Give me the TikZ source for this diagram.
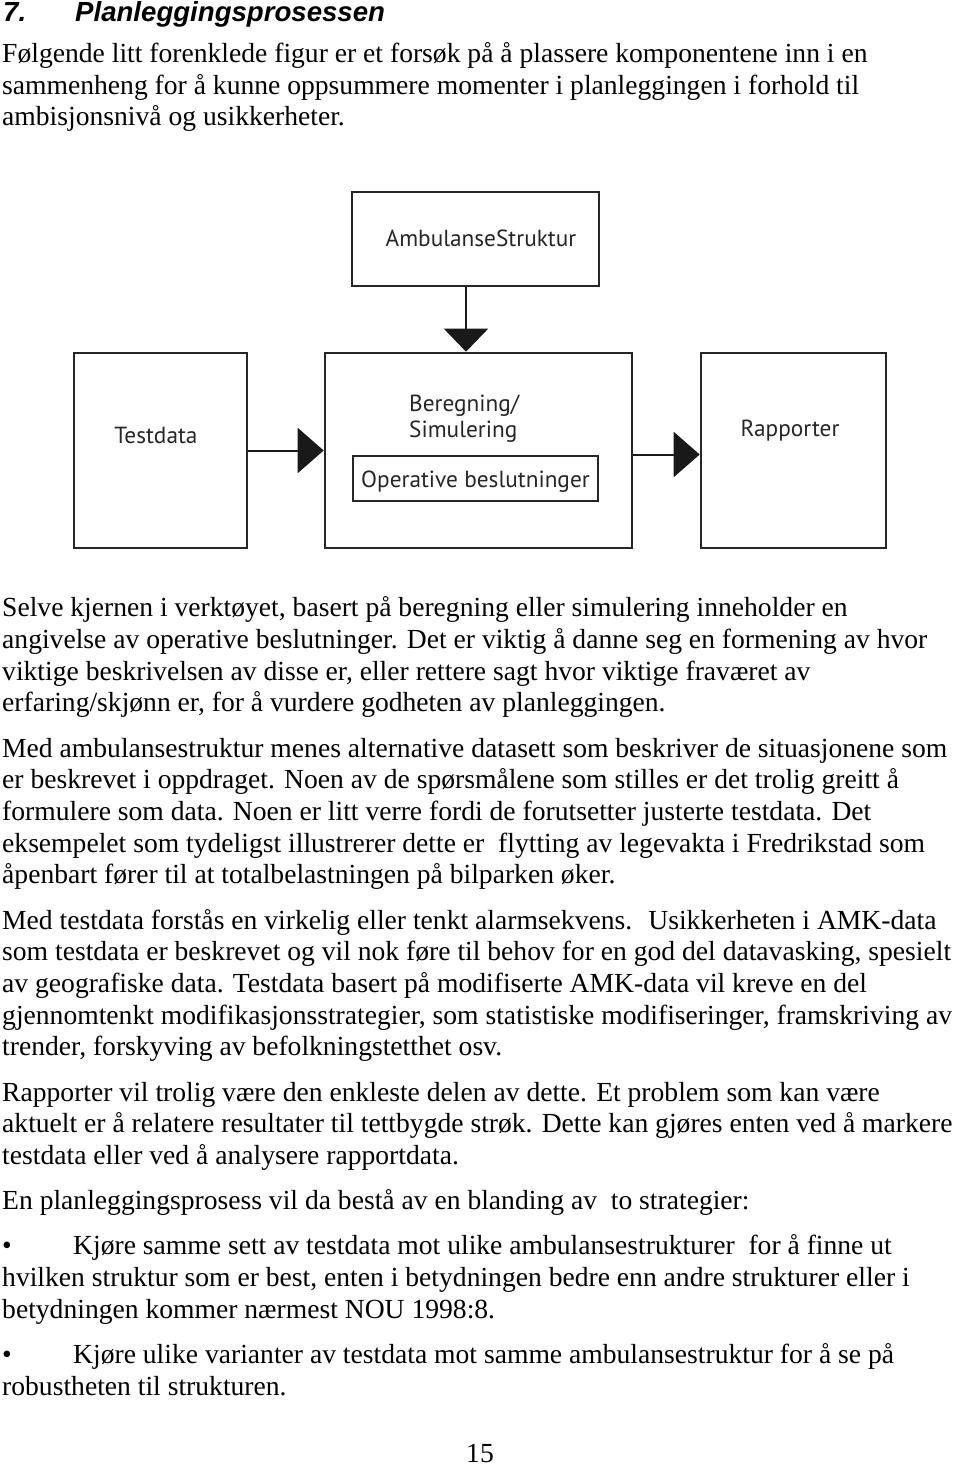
\documentclass[tikz,border=0pt]{standalone}
\usepackage{fontspec}
\setmainfont{Liberation Serif}
\newfontfamily\titlefont{Liberation Sans}
\newfontfamily\diafont{PT Sans}
\usetikzlibrary{arrows.meta,calc}
\begin{document}
\begin{tikzpicture}[x=1pt,y=-1pt,
  txt/.style={anchor=base west,inner sep=0pt,font=\fontsize{27.6}{31.7}\selectfont},
  ttl/.style={anchor=base west,inner sep=0pt,font=\titlefont\bfseries\itshape\fontsize{27.6}{31.7}\selectfont},
  boxnode/.style={draw=black!85,line width=2.6pt,inner sep=0pt,minimum height=195pt},
  dlabel/.style={inner sep=0pt,font=\diafont\fontsize{23.3}{27}\selectfont,text=black!85},
  conn/.style={draw=black!90,line width=2pt},
  tipv/.style={-{Triangle[length=23pt,width=44pt]}},
  tiph/.style={-{Triangle[length=26pt,width=45pt]}}]
\useasboundingbox[fill=white] (0,0) rectangle (960,1467);

% title
\node[ttl] (t7) at (3,21) {7.};
\node[ttl] (tt) at (75,21) {Planleggingsprosessen};

% intro paragraph
\node[txt] (p1a) at (2,62.5) {Følgende litt forenklede figur er et forsøk på å plassere komponentene inn i en};
\node[txt] (p1b) at (2,94.2) {sammenheng for å kunne oppsummere momenter i planleggingen i forhold til};
\node[txt] (p1c) at (2,125.9) {ambisjonsnivå og usikkerheter.};

% diagram
\node[boxnode,minimum width=247pt,minimum height=94pt] (amb) at (475.5,239) {};
\node[dlabel,anchor=base] (ambt) at (481,246) {AmbulanseStruktur};
\node[boxnode,minimum width=173pt] (test) at (160.5,450.5) {};
\node[dlabel,anchor=base] (testt) at (156,443) {Testdata};
\node[boxnode,minimum width=307pt] (calc) at (478.5,450.5) {};
\node[dlabel,anchor=base west] (ber) at (409,411) {Beregning/};
\node[dlabel,anchor=base west] (sim) at (409,437) {Simulering};
\node[draw=black!85,line width=2.4pt,inner sep=0pt,minimum width=245pt,minimum height=45pt] (op) at (475.5,478.5) {};
\node[dlabel,anchor=base] (opt) at (475.5,487) {Operative beslutninger};
\node[boxnode,minimum width=185pt] (rap) at (793.5,450.5) {};
\node[dlabel,anchor=base] (rapt) at (790,436) {Rapporter};

\coordinate (dx) at (466,0);
\draw[conn,tipv] (amb.south -| dx) -- (calc.north -| dx);
\draw[conn,tiph] (test.east) -- (calc.west);
\draw[conn,tiph] ($(calc.east)+(0,4)$) -- ($(rap.west)+(0,4)$);

% paragraph 2
\node[txt] (p2a) at (2,616.7) {Selve kjernen i verktøyet, basert på beregning eller simulering inneholder en};
\node[txt] (p2b) at (2,648.4) {angivelse av operative beslutninger. Det er viktig å danne seg en formening av hvor};
\node[txt] (p2c) at (2,680.1) {viktige beskrivelsen av disse er, eller rettere sagt hvor viktige fraværet av};
\node[txt] (p2d) at (2,711.8) {erfaring/skjønn er, for å vurdere godheten av planleggingen.};

% paragraph 3
\node[txt] (p3a) at (2,757) {Med ambulansestruktur menes alternative datasett som beskriver de situasjonene som};
\node[txt] (p3b) at (2,788.7) {er beskrevet i oppdraget. Noen av de spørsmålene som stilles er det trolig greitt å};
\node[txt] (p3c) at (2,820.4) {formulere som data. Noen er litt verre fordi de forutsetter justerte testdata. Det};
\node[txt] (p3d) at (2,852.1) {eksempelet som tydeligst illustrerer dette er~ flytting av legevakta i Fredrikstad som};
\node[txt] (p3e) at (2,883.8) {åpenbart fører til at totalbelastningen på bilparken øker.};

% paragraph 4
\node[txt] (p4a) at (2,929) {Med testdata forstås en virkelig eller tenkt alarmsekvens.~ Usikkerheten i AMK-data};
\node[txt] (p4b) at (2,960.7) {som testdata er beskrevet og vil nok føre til behov for en god del datavasking, spesielt};
\node[txt] (p4c) at (2,992.4) {av geografiske data. Testdata basert på modifiserte AMK-data vil kreve en del};
\node[txt] (p4d) at (2,1024.1) {gjennomtenkt modifikasjonsstrategier, som statistiske modifiseringer, framskriving av};
\node[txt] (p4e) at (2,1055.8) {trender, forskyving av befolkningstetthet osv.};

% paragraph 5
\node[txt] (p5a) at (2,1101) {Rapporter vil trolig være den enkleste delen av dette. Et problem som kan være};
\node[txt] (p5b) at (2,1132.7) {aktuelt er å relatere resultater til tettbygde strøk. Dette kan gjøres enten ved å markere};
\node[txt] (p5c) at (2,1164.4) {testdata eller ved å analysere rapportdata.};

% paragraph 6
\node[txt] (p6a) at (2,1209.6) {En planleggingsprosess vil da bestå av en blanding av~ to strategier:};

% bullets
\node[txt] (b1) at (2,1254.8) {•};
\node[txt] (b1a) at (73,1254.8) {Kjøre samme sett av testdata mot ulike ambulansestrukturer~ for å finne ut};
\node[txt] (b1b) at (2,1286.5) {hvilken struktur som er best, enten i betydningen bedre enn andre strukturer eller i};
\node[txt] (b1c) at (2,1318.2) {betydningen kommer nærmest NOU 1998:8.};
\node[txt] (b2) at (2,1363.4) {•};
\node[txt] (b2a) at (73,1363.4) {Kjøre ulike varianter av testdata mot samme ambulansestruktur for å se på};
\node[txt] (b2b) at (2,1395) {robustheten til strukturen.};

% page number
\node[txt,anchor=base] (pg) at (480,1462) {15};
\end{tikzpicture}
\end{document}
